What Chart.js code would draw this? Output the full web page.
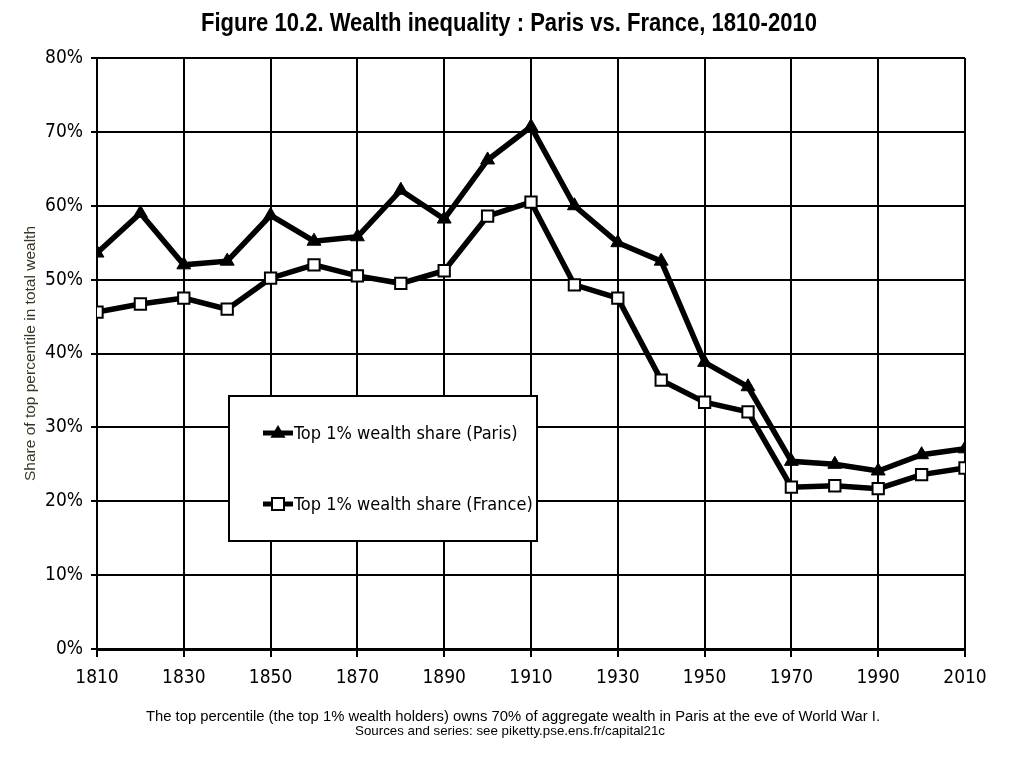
<!DOCTYPE html>
<html>
<head>
<meta charset="utf-8">
<script src="https://cdn.jsdelivr.net/npm/chart.js@4/dist/chart.umd.min.js"></script>
<style>
  html, body { margin: 0; padding: 0; background: #fff; }
  #wrap { position: relative; width: 1024px; height: 768px; }
  canvas { position: absolute; left: 0; top: 0; }
  .txt { position: absolute; white-space: nowrap; color: #000; transform-origin: 0 0;
         font-family: 'Liberation Sans', Arial, sans-serif; line-height: 1; }
  #title { font-size: 25px; font-weight: bold; }
  #cap1 { font-size: 15.5px; }
  #cap2 { font-size: 13px; }
</style>
</head>
<body>
<div id="wrap">
  <canvas id="c" width="1024" height="768"></canvas>
  <div class="txt" id="title"></div>
  <div class="txt" id="cap1"></div>
  <div class="txt" id="cap2"></div>
</div>
<script>
const years = [1810,1820,1830,1840,1850,1860,1870,1880,1890,1900,1910,1920,1930,1940,1950,1960,1970,1980,1990,2000,2010];
const parisShare = [53.6,59.0,52.0,52.5,58.7,55.2,55.8,62.1,58.2,66.2,70.7,60.0,55.0,52.5,38.8,35.5,25.4,25.0,24.1,26.3,27.1];
const franceShare = [45.6,46.7,47.5,46.0,50.2,52.0,50.5,49.5,51.2,58.6,60.5,49.3,47.5,36.4,33.4,32.1,21.9,22.1,21.7,23.6,24.5];
const seriesLabels = ['Top 1% wealth share (Paris)', 'Top 1% wealth share (France)'];
const titleText = 'Figure 10.2. Wealth inequality : Paris vs. France, 1810-2010';
const yAxisTitle = 'Share of top percentile in total wealth';
const caption1 = 'The top percentile (the top 1% wealth holders) owns 70% of aggregate wealth in Paris at the eve of World War I.';
const caption2 = 'Sources and series: see piketty.pse.ens.fr/capital21c';

const FONT = "'Liberation Sans Narrow', 'DejaVu Sans Condensed', Arial, sans-serif";

function placeText(id, text, left, top, width) {
  const el = document.getElementById(id);
  el.textContent = text;
  const w = el.getBoundingClientRect().width;
  el.style.left = left + 'px';
  el.style.top = top + 'px';
  el.style.transform = 'scaleX(' + (width / w) + ')';
}
placeText('title', titleText, 201, 10, 616);
placeText('cap1', caption1, 146, 708, 734);
placeText('cap2', caption2, 355, 724, 310);

const legendPlugin = {
  id: 'boxLegend',
  afterDraw(chart) {
    const ctx = chart.ctx;
    const bx = 229, by = 396, bw = 308, bh = 145;
    ctx.save();
    ctx.fillStyle = '#fff';
    ctx.fillRect(bx, by, bw, bh);
    ctx.lineWidth = 2;
    ctx.strokeStyle = '#000';
    ctx.strokeRect(bx, by, bw, bh);
    const rows = [433, 504];
    chart.data.datasets.forEach((ds, i) => {
      const y = rows[i];
      ctx.strokeStyle = ds.borderColor;
      ctx.lineWidth = 5;
      ctx.beginPath();
      ctx.moveTo(263, y); ctx.lineTo(293, y); ctx.stroke();
      ctx.lineWidth = ds.pointBorderWidth;
      ctx.fillStyle = ds.pointBackgroundColor;
      ctx.strokeStyle = ds.pointBorderColor;
      const cx = 278, r = ds.pointRadius;
      ctx.beginPath();
      if (ds.pointStyle === 'triangle') {
        ctx.moveTo(cx, y - r);
        ctx.lineTo(cx + r * 0.95, y + r * 0.6);
        ctx.lineTo(cx - r * 0.95, y + r * 0.6);
        ctx.closePath();
        ctx.fill();
      } else {
        const s = r * 0.75;
        ctx.rect(cx - s, y - s, 2 * s, 2 * s);
        ctx.fill(); ctx.stroke();
      }
      ctx.fillStyle = '#000';
      ctx.font = '18px ' + FONT;
      ctx.textBaseline = 'middle';
      ctx.fillText(ds.label, 294, y + 1);
    });
    ctx.restore();
  }
};

new Chart(document.getElementById('c'), {
  type: 'line',
  data: {
    datasets: [
      {
        label: seriesLabels[0],
        data: years.map((x, i) => ({ x, y: parisShare[i] })),
        borderColor: '#000', borderWidth: 5.5,
        pointStyle: 'triangle', pointRadius: 8,
        pointBackgroundColor: '#000', pointBorderColor: '#000', pointBorderWidth: 1,
        tension: 0
      },
      {
        label: seriesLabels[1],
        data: years.map((x, i) => ({ x, y: franceShare[i] })),
        borderColor: '#000', borderWidth: 5.5,
        pointStyle: 'rect', pointRadius: 8,
        pointBackgroundColor: '#fff', pointBorderColor: '#000', pointBorderWidth: 2,
        tension: 0
      }
    ]
  },
  options: {
    responsive: false,
    animation: false,
    layout: { padding: { left: 0, right: 59, top: 58, bottom: 0 } },
    plugins: {
      legend: { display: false },
      tooltip: { enabled: false },
      title: { display: false }
    },
    scales: {
      x: {
        type: 'linear', min: 1810, max: 2010,
        afterFit(s) { s.height = 119; },
        ticks: { stepSize: 20, color: '#000', padding: 10, font: { family: FONT, size: 19 },
                 callback: v => String(v), maxRotation: 0 },
        grid: { color: '#000', lineWidth: 2, tickLength: 8, drawTicks: true },
        border: { color: '#000', width: 3 }
      },
      y: {
        min: 0, max: 80,
        afterFit(s) { s.width = 97; },
        ticks: { stepSize: 10, color: '#000', padding: 8, font: { family: FONT, size: 19 },
                 callback: v => v + '%' },
        grid: { color: '#000', lineWidth: 2, tickLength: 6 },
        border: { color: '#000', width: 2 },
        title: { display: true, text: yAxisTitle, color: '#3a3424',
                 font: { family: "'Liberation Sans', Arial, sans-serif", size: 15.5 },
                 padding: { top: 21, bottom: 0 } }
      }
    }
  },
  plugins: [legendPlugin]
});
</script>
</body>
</html>
